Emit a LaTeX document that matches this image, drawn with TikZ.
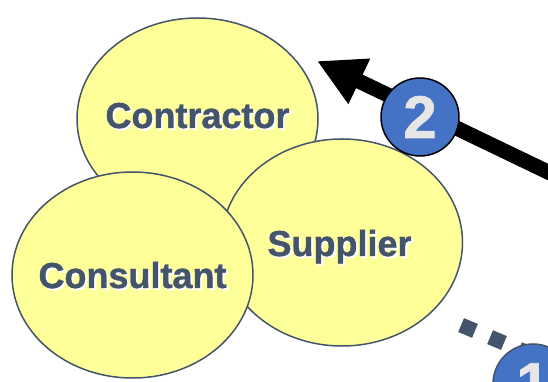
\documentclass[tikz,border=0pt]{standalone}
\usepackage{fontspec}
\setmainfont{Liberation Sans}[BoldFeatures={FakeBold=1.2}]
\usetikzlibrary{shapes.geometric,arrows.meta}
\definecolor{ellfill}{HTML}{FFFF99}
\definecolor{ellline}{HTML}{44546A}
\definecolor{txtcol}{HTML}{44546A}
\definecolor{badgeblue}{HTML}{4472C4}
\definecolor{badgetxt}{HTML}{E7E6E6}
\newcommand\shadowtext[1]{\makebox[0pt][l]{\hspace{2pt}\raisebox{-2pt}{\textcolor{white}{#1}}}#1}
\tikzset{
  ell/.style={ellipse, draw=ellline, line width=1.5pt, fill=ellfill, inner sep=0pt, minimum width=241pt},
  lbl/.style={anchor=base, inner sep=0pt, text=txtcol, font=\fontsize{36}{40}\selectfont\bfseries},
  badge/.style={circle, fill=badgeblue, line width=1.5pt, minimum size=78pt, inner sep=0pt, text=badgetxt, font=\fontsize{60}{64}\selectfont\bfseries},
  bigarrow/.style={line width=15pt, -{Triangle[length=47pt,width=47pt]}},
  dotline/.style={draw=ellline, line width=15pt, dash pattern=on 15pt off 16.4pt}
}
\begin{document}
\begin{tikzpicture}[x=1pt,y=1pt]
\useasboundingbox (0,0) rectangle (548,382);
% Contractor
\node[ell, minimum height=202pt] (contractor) at (197.5,263) {};
\node[lbl] (tcontractor) at (197.5,254) {\shadowtext{Contractor}};
% Supplier
\node[ell, minimum height=207pt] (supplier) at (342,139.5) {};
\node[lbl] (tsupplier) at (339.5,126) {\shadowtext{Supplier}};
% Consultant
\node[ell, minimum height=206pt] (consultant) at (132.5,107) {};
\node[lbl] (tconsultant) at (132.5,94) {\shadowtext{Consultant}};
% arrow 2
\coordinate (arrowtail) at (560,204.2);
\coordinate (arrowtip) at (317,321);
\draw[bigarrow] (arrowtail) -- (arrowtip);
\node[badge, draw=black] (b2) at (420,265) {2};
% dotted connector to badge 1
\coordinate (dotstart) at (461.1,56.9);
\coordinate (dotend) at (540,24);
\draw[dotline] (dotstart) -- (dotend);
\node[badge, draw=ellline, minimum size=80pt] (b1) at (533,-2) {1};
\end{tikzpicture}
\end{document}
